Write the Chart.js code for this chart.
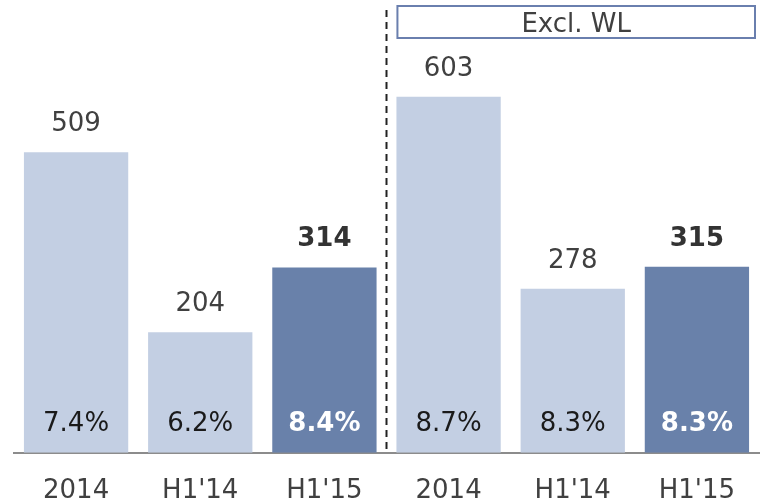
<!DOCTYPE html>
<html>
<head>
<meta charset="utf-8">
<script src="https://cdn.jsdelivr.net/npm/chart.js@4/dist/chart.umd.min.js"></script>
<style>
  body { margin: 0; background: #fff; }
  #wrap { width: 761px; height: 503px; }
</style>
</head>
<body>
<div id="wrap"><canvas id="graf"></canvas></div>
<script>
// dados
var categorias = ["2014", "H1'14", "H1'15", "2014", "H1'14", "H1'15"];
var valores = [509, 204, 314, 603, 278, 315];
var percentuais = ["7.4%", "6.2%", "8.4%", "8.7%", "8.3%", "8.3%"];
var destaque = [false, false, true, false, false, true];
var tituloGrupo = "Excl. WL";

var corClara = '#c3cfe3';
var corEscura = '#6981aa';
var fonte = '"DejaVu Sans", Verdana, sans-serif';

// rótulos, linha tracejada e caixa "Excl. WL"
var rotulosPlugin = {
    id: 'rotulos',
    afterDatasetsDraw: function (chart) {
        var ctx = chart.ctx;
        var meta = chart.getDatasetMeta(0);
        var area = chart.chartArea;
        var x = chart.scales.x;
        ctx.save();
        ctx.textAlign = 'center';
        ctx.textBaseline = 'alphabetic';
        meta.data.forEach(function (bar, i) {
            // valor acima da barra
            ctx.font = (destaque[i] ? 'bold ' : '') + '26px ' + fonte;
            ctx.fillStyle = destaque[i] ? '#333333' : '#404040';
            ctx.fillText(String(valores[i]), bar.x, bar.y - 21);
            // percentual dentro da barra
            ctx.fillStyle = destaque[i] ? '#ffffff' : '#1a1a1a';
            ctx.fillText(percentuais[i], bar.x, area.bottom - 22);
        });

        // linha tracejada entre os grupos
        var xm = (x.getPixelForValue(2) + x.getPixelForValue(3)) / 2;
        ctx.beginPath();
        ctx.setLineDash([7, 5]);
        ctx.lineWidth = 2;
        ctx.strokeStyle = '#222222';
        ctx.moveTo(xm, area.top);
        ctx.lineTo(xm, area.bottom - 2);
        ctx.stroke();
        ctx.setLineDash([]);

        // caixa do segundo grupo
        var bx1 = meta.data[3].x - meta.data[3].width / 2 + 1;
        var bx2 = area.right - 4;
        ctx.lineWidth = 2;
        ctx.strokeStyle = '#6a7fae';
        ctx.strokeRect(bx1, 6, bx2 - bx1, 32);
        ctx.font = '26px ' + fonte;
        ctx.fillStyle = '#404040';
        ctx.fillText(tituloGrupo, (bx1 + bx2) / 2, 32);
        ctx.restore();
    }
};

function criarGrafico() {
    var ctx = document.getElementById('graf').getContext('2d');
    new Chart(ctx, {
        type: 'bar',
        data: {
            labels: categorias,
            datasets: [{
                data: valores,
                backgroundColor: destaque.map(function (d) { return d ? corEscura : corClara; }),
                borderWidth: 0,
                barPercentage: 1,
                categoryPercentage: 0.84
            }]
        },
        options: {
            responsive: true,
            maintainAspectRatio: false,
            animation: false,
            layout: { padding: { top: 10, left: 14, right: 2, bottom: -19 } },
            plugins: {
                legend: { display: false },
                tooltip: { enabled: false }
            },
            scales: {
                y: {
                    display: false,
                    min: 0,
                    max: 750
                },
                x: {
                    grid: { display: false },
                    border: { display: true, color: '#8c8c8c', width: 2 },
                    ticks: {
                        padding: 15,
                        color: '#404040',
                        font: { family: fonte, size: 26 }
                    }
                }
            }
        },
        plugins: [rotulosPlugin]
    });
}

document.addEventListener('DOMContentLoaded', criarGrafico);
</script>
</body>
</html>
